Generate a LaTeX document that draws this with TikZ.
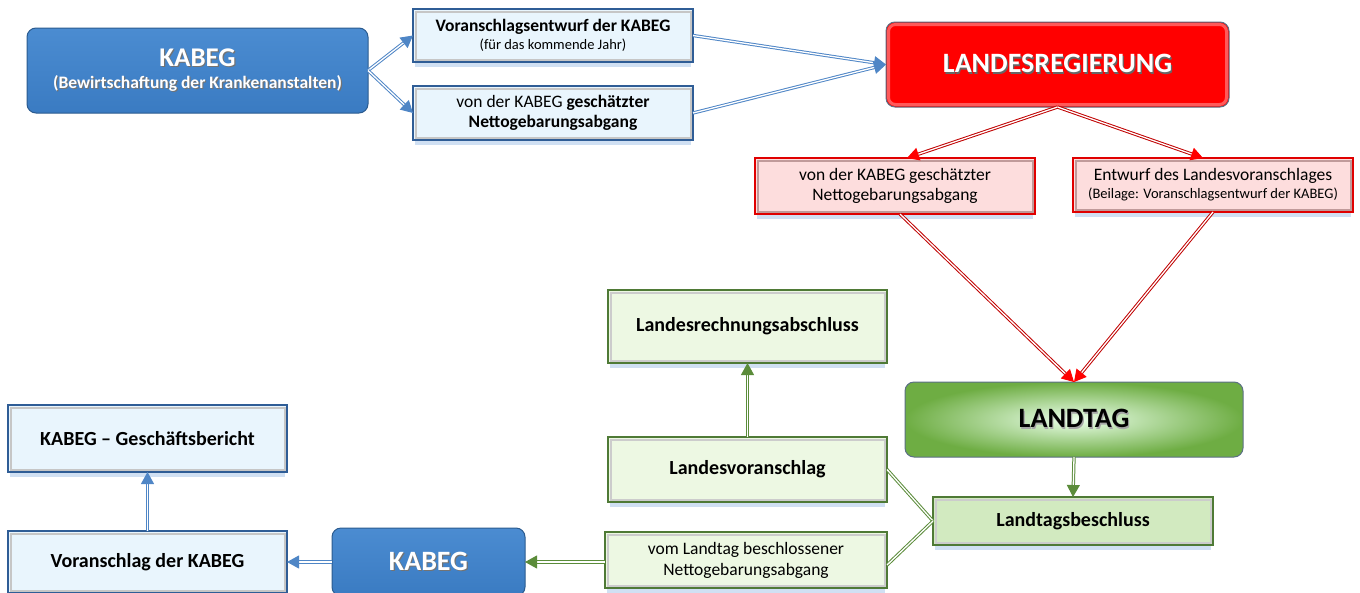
\documentclass[tikz,border=0pt]{standalone}
\usepackage{fontspec}
\setmainfont{Carlito}
\usetikzlibrary{arrows.meta,backgrounds}
\definecolor{bframe}{HTML}{2F5D96}
\definecolor{lblue}{HTML}{E9F5FD}
\definecolor{kblue}{HTML}{3A7BC2}
\definecolor{kbluetop}{HTML}{4B8CD1}
\definecolor{kborder}{HTML}{2B5B8F}
\definecolor{pinkfill}{HTML}{FDDDDD}
\definecolor{pinkframe}{HTML}{E00000}
\definecolor{pinkbevel}{HTML}{C09A9A}
\definecolor{gframe}{HTML}{4F7A36}
\definecolor{lgreen}{HTML}{EDF8E3}
\definecolor{mgreen}{HTML}{D2EAC0}
\definecolor{ltgreen}{HTML}{6EAD43}
\definecolor{arrblue}{HTML}{4F86C6}
\definecolor{arrred}{HTML}{C00000}
\definecolor{headred}{HTML}{FF0000}
\definecolor{arrgreen}{HTML}{5B8C3A}
\definecolor{grayborder}{HTML}{5B6F85}
\definecolor{shadowblue}{HTML}{BCD3EE}
\newcommand{\fs}[2]{\fontsize{#1}{#2}\selectfont}
\newcommand{\shd}[2][black!55]{\leavevmode\rlap{\kern1.2pt\raisebox{-1.2pt}{\color{#1}#2}}#2}
\begin{document}
\begin{tikzpicture}[x=1pt,y=-1pt,
  every node/.style={inner sep=0pt, align=center, outer sep=0pt},
  bevelline/.style={line width=2pt},
  shadowbox/.style={fill=shadowblue, opacity=0.7},
  bluebox/.style={draw=bframe, line width=1.6pt, fill=lblue},
  pinkbox/.style={draw=pinkframe, line width=1.6pt, fill=pinkfill},
  greenbox/.style={draw=gframe, line width=1.6pt, fill=lgreen},
  bigblue/.style={draw=kborder, line width=1pt, rounded corners=9pt, top color=kbluetop, bottom color=kblue, text=white},
  bigred/.style={draw=grayborder, line width=1pt, rounded corners=9pt, fill=headred, text=white},
  biggreen/.style={draw=grayborder, line width=1pt, rounded corners=9pt, inner color=white!92!green, outer color=ltgreen, text=black},
  barr/.style={draw=arrblue, double=white, double distance=1.3pt, line width=1pt, -{Triangle[length=12pt,width=13pt,fill=arrblue]}},
  rarr/.style={draw=arrred, double=white, double distance=1.3pt, line width=1pt, -{Triangle[length=12pt,width=13pt,fill=headred,color=headred]}},
  garr/.style={draw=arrgreen, double=white, double distance=1.3pt, line width=1pt, -{Triangle[length=12pt,width=13pt,fill=arrgreen]}},
  gline/.style={draw=arrgreen, double=white, double distance=1.3pt, line width=1pt}
]
\useasboundingbox (0,0) rectangle (1360,592);
% top row
\node[bigblue, minimum width=341, minimum height=85, font=\bfseries\fs{17.5}{20}] (kabeg1) at (197.5,70.5)
  {{\fs{27}{30}\shd{KABEG}}\\[2pt]\shd{(Bewirtschaftung der Krankenanstalten)}};
\node[bluebox, minimum width=280, minimum height=53, font=\fs{14.5}{18}] (boxA) at (553,35.5)
  {{\fs{17.5}{19}\bfseries Voranschlagsentwurf der KABEG}\\(für das kommende Jahr)};
\node[bluebox, minimum width=280, minimum height=54, font=\fs{17.5}{20}] (boxB) at (553,113)
  {von der KABEG \textbf{geschätzter}\\\textbf{Nettogebarungsabgang}};
\node[bigred, minimum width=343, minimum height=85, font=\bfseries\fs{28}{30}] (lr) at (1057.5,64.5)
  {\shd[black!60]{LANDESREGIERUNG}};
% pink row
\node[pinkbox, minimum width=280, minimum height=56, font=\fs{17.5}{20}] (pink1) at (895,186)
  {von der KABEG geschätzter\\Nettogebarungsabgang};
\node[pinkbox, minimum width=280, minimum height=54, font=\fs{14.5}{18}] (pink2) at (1213,185)
  {{\fs{17.5}{19}Entwurf des Landesvoranschlages}\\(Beilage: Voranschlagsentwurf der KABEG)};
% Landtag
\node[biggreen, minimum width=338, minimum height=75, font=\bfseries\fs{28}{30}] (lt) at (1074,419.5)
  {\shd[black!35]{LANDTAG}};
\node[greenbox, fill=mgreen, minimum width=280, minimum height=48, font=\bfseries\fs{20}{24}] (lb) at (1073,521)
  {Landtagsbeschluss};
% green column
\node[greenbox, minimum width=279, minimum height=73, font=\bfseries\fs{20}{24}] (lra) at (747.5,326.5)
  {Landesrechnungsabschluss};
\node[greenbox, minimum width=279, minimum height=65, font=\bfseries\fs{20}{24}] (lv) at (747.5,469.5)
  {Landesvoranschlag};
\node[greenbox, minimum width=282, minimum height=56, font=\fs{17.5}{21}] (vl) at (746,560)
  {vom Landtag beschlossener\\Nettogebarungsabgang};
% bottom left
\node[bigblue, minimum width=193, minimum height=68, font=\bfseries\fs{28}{30}] (kb2) at (428.5,562)
  {\shd{KABEG}};
\node[bluebox, minimum width=279, minimum height=62, font=\bfseries\fs{20}{24}] (vk) at (147.5,562)
  {Voranschlag der KABEG};
\node[bluebox, minimum width=279, minimum height=67, font=\bfseries\fs{20}{24}] (gb) at (147.5,438.5)
  {KABEG -- Geschäftsbericht};
% bevels (inner frames) of the rectangular boxes
\foreach \n/\c in {boxA/gray!45, boxB/gray!45, vk/gray!45, gb/gray!45,
                   pink1/pinkbevel, pink2/pinkbevel,
                   lb/gray!40, lra/gray!40, lv/gray!40, vl/gray!40}
  \draw[bevelline, \c] ([shift={(2.5pt,-2.5pt)}]\n.north west) rectangle ([shift={(-2.5pt,2.5pt)}]\n.south east);
% soft glow inside the red box
\draw[white, opacity=0.35, line width=3pt, rounded corners=7pt]
  ([shift={(2.5pt,-2.5pt)}]lr.north west) rectangle ([shift={(-2.5pt,2.5pt)}]lr.south east);
% light blue shadows below the boxes
\begin{scope}[on background layer]
\foreach \n in {boxA, boxB, vk, gb, pink1, pink2, lb, lra, lv, vl}
  \fill[shadowbox] ([shift={(2pt,0pt)}]\n.north west) rectangle ([shift={(-2pt,-4.5pt)}]\n.south east);
\end{scope}
% connectors
\draw[barr] (kabeg1.east) -- (boxA.west);
\draw[barr] (kabeg1.east) -- (boxB.west);
\draw[barr] (boxA.east) -- (lr.west);
\draw[barr] (boxB.east) -- (lr.west);
\draw[rarr] (lr.south) -- ([xshift=12pt]pink1.north);
\draw[rarr] (lr.south) -- ([xshift=-10pt]pink2.north);
\draw[rarr] ([xshift=5pt]pink1.south) -- (lt.north);
\draw[rarr] (pink2.south) -- (lt.north);
\draw[garr] (lt.south) -- (lb.north);
\draw[gline] (lb.west) -- (lv.east);
\draw[gline] (lb.west) -- ([yshift=-5pt]vl.east);
\draw[garr] (lv.north) -- (lra.south);
\draw[garr] ([yshift=-2pt]vl.west) -- ([yshift=-2pt]vl.west -| kb2.east);
\draw[barr] (kb2.west) -- (kb2.west -| vk.east);
\draw[barr] (vk.north) -- (gb.south);
\end{tikzpicture}
\end{document}
